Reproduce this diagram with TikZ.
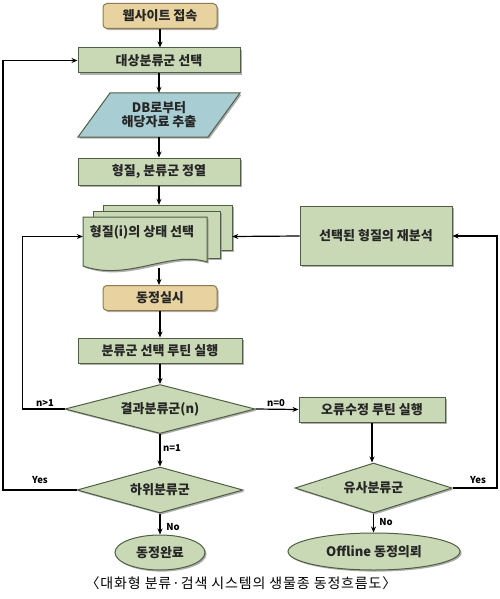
\documentclass[tikz,border=0pt]{standalone}
\usepackage{fontspec}
\setmainfont{Noto Sans CJK KR}
\usetikzlibrary{shapes.geometric,shadows,arrows.meta}
\definecolor{sage}{HTML}{C9D8B5}
\definecolor{sageline}{HTML}{4F5F45}
\definecolor{tanfill}{HTML}{E7D2A0}
\definecolor{tanline}{HTML}{8C7B52}
\definecolor{tealfill}{HTML}{A8CDD3}
\definecolor{tealline}{HTML}{5F8088}
\definecolor{shadowc}{HTML}{9A9A9A}
\tikzset{
  shad/.style={drop shadow={shadow xshift=1.6pt, shadow yshift=-1.6pt, fill=shadowc, opacity=0.8}},
  lbl/.style={font=\bfseries\fontsize{13}{15}\selectfont, text=black!85},
  box/.style={lbl, draw=sageline, fill=sage, line width=1pt, minimum width=162, minimum height=25, inner sep=0pt, shad},
  tanbox/.style={lbl, draw=tanline, fill=tanfill, line width=1pt, rounded corners=4pt, minimum width=114, minimum height=25, inner sep=0pt, shad},
  dia/.style={lbl, diamond, aspect=4, draw=sageline, fill=sage, line width=1pt, inner sep=0pt, shad},
  ell/.style={lbl, ellipse, draw=sageline, fill=sage, line width=1pt, inner sep=0pt, shad},
  small/.style={font=\bfseries\fontsize{9.5}{11}\selectfont},
  arr/.style={line width=1.2pt, -{Stealth[length=6pt,width=5pt]}},
  ln/.style={line width=1.2pt},
}
\begin{document}
\begin{tikzpicture}[x=1pt,y=-1pt]
\useasboundingbox (0,0) rectangle (500,599);

% nodes, left column
\node[tanbox] (web) at (160,16) {웹사이트 접속};
\node[box] (target) at (159,60.5) {대상분류군 선택};
% parallelogram
\fill[shadowc, opacity=0.8] (79.6,138.6) -- (111.6,94.6) -- (241.6,94.6) -- (209.6,138.6) -- cycle;
\draw[sageline, fill=tealfill, line width=1pt] (78,137) -- (110,93) -- (240,93) -- (208,137) -- cycle;
\node[lbl, align=center, inner sep=0pt, minimum width=162, minimum height=44] (db) at (159,115) {DB로부터\\[-1pt]해당자료 추출};
\node[box, minimum height=27] (sort) at (159,171.5) {형질, 분류군 정열};

% document stack
\begin{scope}[line width=1pt, draw=sageline]
  \fill[shadowc, opacity=0.8] (104.6,206.6) rectangle (233.6,251.6);
  \draw[fill=sage] (103,205) rectangle (232,250);
  \fill[shadowc, opacity=0.8] (94.6,212.6) rectangle (221.6,259.6);
  \draw[fill=sage] (93,211) rectangle (220,258);
  \fill[shadowc, opacity=0.8] (84.6,218.6) -- (208.6,218.6) -- (208.6,263.6) .. controls (172,252) and (130,284) .. (84.6,267.6) -- cycle;
  \draw[fill=sage] (83,217) -- (207,217) -- (207,262) .. controls (170,250) and (128,282) .. (83,266) -- cycle;
\end{scope}
\node[inner sep=0pt, minimum width=149, minimum height=63] (doc) at (157.5,236.5) {};
\node[lbl, inner sep=0pt] (doctext) at (142,232) {형질(i)의 상태 선택};

\node[tanbox] (exec) at (160,298) {동정실시};
\node[box, minimum width=164] (routine) at (160,350.5) {분류군 선택 루틴 실행};
\node[dia, minimum width=190, minimum height=49] (res) at (160,409) {결과분류군(n)};
\node[dia, minimum width=166, minimum height=46] (sub) at (160,490) {하위분류군};
\node[ell, minimum width=90, minimum height=35] (done) at (160,552.5) {동정완료};

% right column
\node[box, minimum width=152, minimum height=59] (re) at (376,236) {선택된 형질의 재분석};
\node[box, minimum width=146, minimum height=25] (err) at (372,409.5) {오류수정 루틴 실행};
\node[dia, minimum width=157, minimum height=50] (sim) at (373.5,488) {유사분류군};
\node[ell, minimum width=172, minimum height=37] (off) at (374,551.5) {Offline 동정의뢰};

% caption
\node[font=\fontsize{14}{16}\selectfont\addfontfeatures{LetterSpace=6}] (cap) at (241,583) {〈대화형 분류·검색 시스템의 생물종 동정흐름도〉};

% connectors
\draw[arr] (web.south) -- (web.south |- target.north);
\draw[arr] (target.south) -- (target.south |- db.north);
\draw[arr] (db.south) -- (db.south |- sort.north);
\draw[arr] (sort.south) -- (sort.south |- doc.north);
\draw[arr] (sort.south |- doc.south) -- (sort.south |- exec.north);
\draw[arr] (exec.south) -- (routine.north);
\draw[arr] (routine.south) -- (res.north);
\draw[arr] (res.south) -- (sub.north);
\draw[arr] (sub.south) -- (done.north);
\draw[arr] (res.west) -- ++(-42,0) |- (doc.west);
\draw[arr] (sub.west) -- (3,490) |- (target.west);
\draw[arr] (res.east) -- (err.west);
\draw[arr] (err.south) -- (err.south |- sim.north);
\draw[arr] (sim.south) -- (sim.south |- off.north);
\draw[arr] (sim.east) -- (497,488) |- (re.east);
\draw[arr] (re.west) -- (doc.east);

% labels
\node[small] (l1) at (45,403) {n>1};
\node[small] (l2) at (276,403) {n=0};
\node[small] (l3) at (172,448) {n=1};
\node[small] (l4) at (40,480) {Yes};
\node[small] (l5) at (173,527) {No};
\node[small] (l6) at (478,480) {Yes};
\node[small] (l7) at (386,522) {No};
\end{tikzpicture}
\end{document}
